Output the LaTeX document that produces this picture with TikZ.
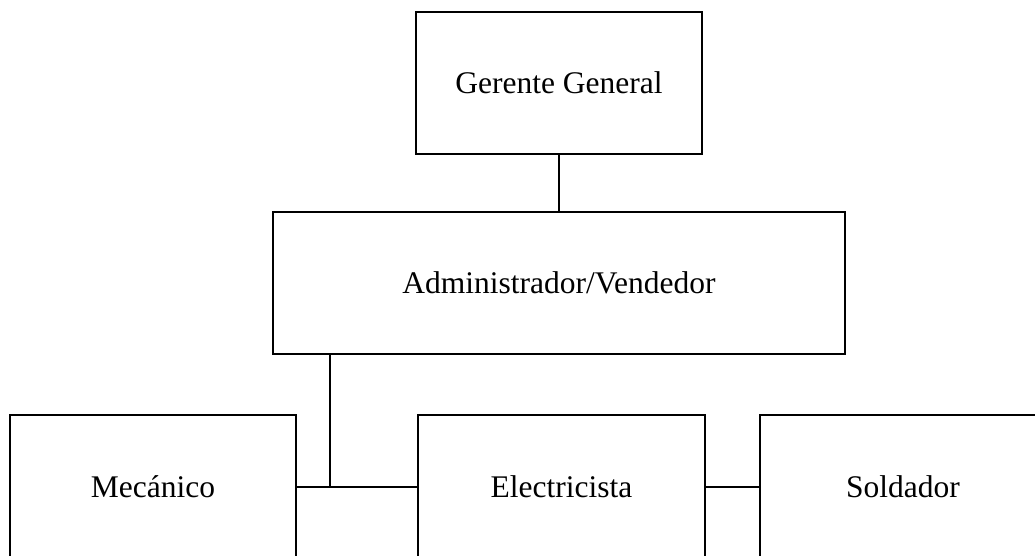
\documentclass[tikz,border=0pt]{standalone}
\usepackage{fontspec}
\setmainfont{Liberation Serif}
\begin{document}
\begin{tikzpicture}[x=1pt,y=-1pt,
  box/.style={draw=black,line width=2pt,fill=white,inner sep=0pt,
    minimum width=286pt,minimum height=142pt,
    font=\fontsize{31.5}{38}\selectfont},
  link/.style={draw=black,line width=2pt}]
\clip (0,0) rectangle (1035,555);
\fill[white] (0,0) rectangle (1035,555);
\node[box] (gg) at (559,83) {Gerente General};
\node[box,minimum width=572pt] (adm) at (559,283) {Administrador/Vendedor};
\node[box,minimum height=144pt] (mec) at (153,487) {Mecánico};
\node[box,minimum height=144pt,minimum width=287pt] (ele) at (561.5,487) {Electricista};
\node[box,minimum height=144pt] (sol) at (903,487) {Soldador};
\coordinate (j) at (330,487);
\draw[link] (gg.south) -- (adm.north);
\draw[link] (adm.south -| j) -- (j);
\draw[link] (mec.east) -- (ele.west);
\draw[link] (ele.east) -- (sol.west);
\end{tikzpicture}
\end{document}
